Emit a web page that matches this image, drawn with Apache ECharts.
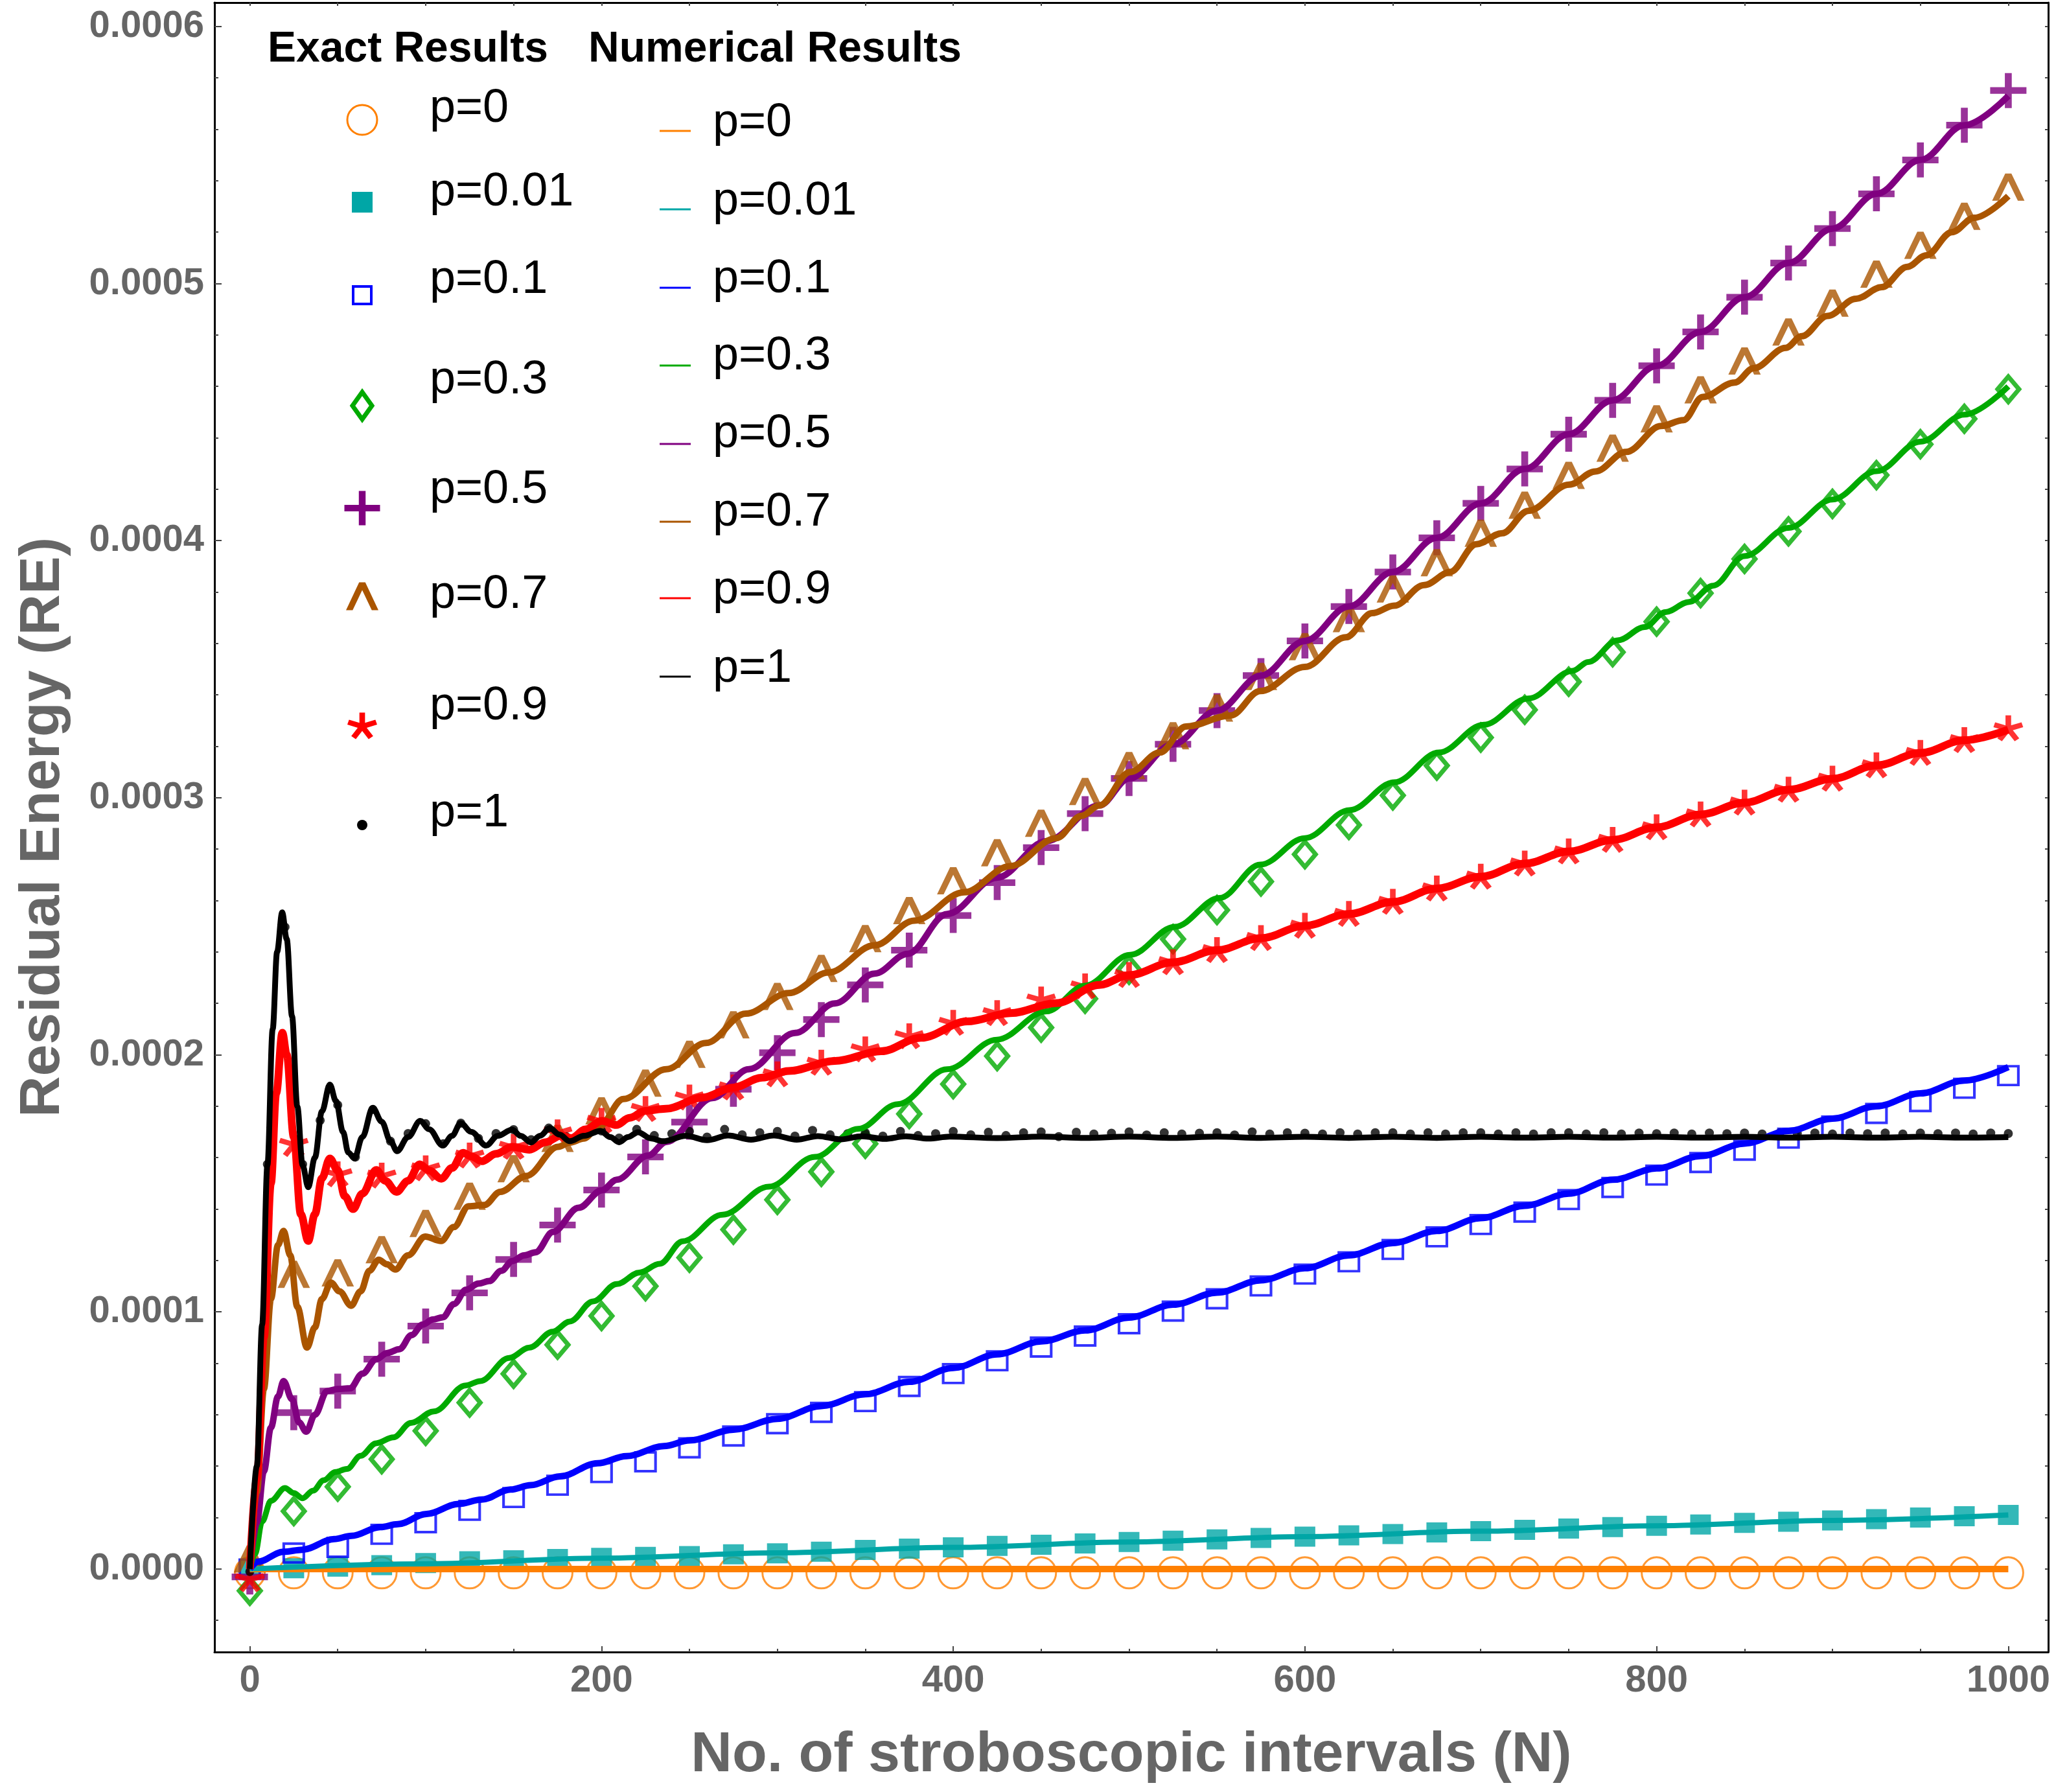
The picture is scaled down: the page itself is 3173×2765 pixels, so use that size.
<!DOCTYPE html>
<html>
<head>
<meta charset="utf-8">
<title>Residual Energy vs stroboscopic intervals</title>
<script src="https://cdn.jsdelivr.net/npm/echarts@6/dist/echarts.min.js"></script>
<style>
  html, body { margin: 0; padding: 0; background: #fff; }
  #chart { width: 3173px; height: 2765px; }
</style>
</head>
<body>
<div id="chart"></div>
<script>
// ---- data (RE values, in units of 1e-6) ----
const exactN = [0, 25, 50, 75, 100, 125, 150, 175, 200, 225, 250, 275, 300, 325, 350, 375, 400, 425, 450, 475,
  500, 525, 550, 575, 600, 625, 650, 675, 700, 725, 750, 775, 800, 825, 850, 875, 900, 925, 950, 975, 1000];
const dotN = [0, 10, 20, 30, 40, 50, 60, 70, 80, 90, 100, 110, 120, 130, 140, 150, 160, 170, 180, 190, 200,
  210, 220, 230, 240, 250, 260, 270, 280, 290, 300, 310, 320, 330, 340, 350, 360, 370, 380, 390, 400,
  410, 420, 430, 440, 450, 460, 470, 480, 490, 500, 510, 520, 530, 540, 550, 560, 570, 580, 590, 600,
  610, 620, 630, 640, 650, 660, 670, 680, 690, 700, 710, 720, 730, 740, 750, 760, 770, 780, 790, 800,
  810, 820, 830, 840, 850, 860, 870, 880, 890, 900, 910, 920, 930, 940, 950, 960, 970, 980, 990, 1000];

// exact results (markers)
const exactP0 = [-1.5, -1.5, -1.5, -1.5, -1.5, -1.5, -1.5, -1.5, -1.5, -1.5, -1.5, -1.5, -1.5, -1.5, -1.5, -1.5,
  -1.5, -1.5, -1.5, -1.5, -1.5, -1.5, -1.5, -1.5, -1.5, -1.5, -1.5, -1.5, -1.5, -1.5, -1.5, -1.5, -1.5, -1.5,
  -1.5, -1.5, -1.5, -1.5, -1.5, -1.5, -1.5];
const exactP001 = [0, 0.3, 0.9, 1.5, 2.3, 3.0, 3.4, 3.9, 4.3, 4.7, 5.0, 5.7, 6.1, 6.7, 7.4, 7.9, 8.4, 9.0, 9.4, 9.9,
  10.5, 11.0, 11.5, 12.1, 12.6, 13.1, 13.6, 14.2, 14.7, 15.2, 15.7, 16.3, 16.8, 17.3, 17.9, 18.4, 18.9, 19.4,
  20.0, 20.5, 21.0];
const exactP01 = [0, 6.2, 8.4, 13.5, 18.0, 22.8, 27.8, 32.6, 37.5, 41.7, 47.1, 51.7, 56.5, 60.9, 65.1, 71.0, 76.0,
  81.0, 86.3, 90.6, 95.4, 100.3, 105.1, 110.1, 114.7, 119.5, 124.3, 129.2, 134.0, 138.8, 143.7, 148.4, 153.2,
  158.1, 162.9, 167.6, 172.3, 177.2, 181.8, 187.0, 191.9];
const exactP03 = [-8.5, 22.5, 32.0, 42.7, 53.7, 64.7, 75.9, 87.2, 98.4, 110.0, 121.1, 132.0, 143.6, 154.5, 165.4,
  177.0, 188.6, 199.5, 210.6, 221.8, 233.1, 245.0, 256.3, 267.4, 278.0, 289.4, 300.9, 312.5, 323.4, 334.2, 345.1,
  356.6, 368.5, 379.6, 392.9, 403.6, 414.3, 425.5, 437.5, 447.4, 458.9];
const exactP05 = [-3.1, 60.8, 69.2, 81.6, 94.5, 107.4, 120.4, 133.8, 147.4, 160.3, 173.8, 186.6, 200.8, 213.7,
  227.2, 240.7, 254.2, 267.0, 280.6, 293.8, 307.5, 320.8, 333.9, 347.5, 361.0, 374.4, 387.8, 401.1, 414.5, 427.9,
  441.4, 454.6, 468.0, 481.2, 494.7, 508.0, 521.4, 534.9, 548.1, 561.6, 575.1];
const exactP07 = [3.9, 114.6, 115.2, 124.2, 134.4, 145.0, 155.7, 167.5, 178.2, 189.0, 200.2, 211.7, 222.7, 233.6,
  245.2, 256.1, 267.7, 278.6, 290.1, 302.4, 312.5, 324.1, 334.9, 347.2, 358.8, 369.7, 381.2, 391.4, 402.9, 413.8,
  425.4, 436.0, 447.4, 458.7, 469.9, 481.2, 492.4, 503.7, 514.9, 526.2, 537.5];
const exactP09 = [-4.0, 165.3, 153.5, 153.0, 155.8, 160.8, 164.2, 169.8, 174.3, 178.9, 183.4, 187.3, 192.4, 196.9,
  202.1, 207.2, 212.4, 216.2, 221.5, 226.6, 231.0, 236.0, 240.7, 245.4, 250.2, 254.8, 259.5, 264.7, 269.3, 274.4,
  279.1, 283.6, 288.5, 293.5, 298.1, 303.1, 307.4, 312.6, 317.4, 322.4, 327.0];
const exactP1 = [-1, 157.4, 249.7, 157.4, 174.5, 180.5, 160.2, 178.7, 166.4, 169.4, 173.2, 165.4, 173.4, 167.5,
  169.4, 170.9, 167.0, 171.5, 168.1, 169.3, 170.4, 167.6, 171.0, 168.6, 169.3, 170.2, 168.0, 171.0, 168.9, 169.7,
  170.2, 168.4, 170.6, 168.9, 169.3, 169.7, 168.4, 170.2, 168.6, 169.3, 170.2, 168.9, 169.9, 168.6, 169.7, 170.0,
  168.2, 169.9, 169.2, 169.5, 170.0, 168.8, 169.7, 169.2, 169.5, 169.7, 168.8, 170.0, 169.2, 169.7, 169.5, 169.2,
  169.7, 169.2, 169.7, 169.7, 169.2, 169.7, 169.2, 169.7, 169.7, 169.2, 169.7, 169.2, 169.7, 169.7, 169.2, 169.7,
  169.2, 169.6, 169.3, 169.6, 169.2, 169.6, 169.3, 169.6, 169.2, 169.6, 169.3, 169.6, 169.2, 169.6, 169.3, 169.6,
  169.2, 169.6, 169.3, 169.6, 169.2, 169.6, 169.4];

// numerical results (lines), pairs [N, RE]
const numP0 = [[0, 0], [1000, 0]];
const numP001 = [[0, 0], [100, 2.0], [200, 4.2], [300, 6.3], [400, 8.4], [500, 10.5], [600, 12.6], [700, 14.7],
  [800, 16.8], [900, 18.9], [1000, 21.0]];
const numP01 = [[0, 0], [4.5, 2.8], [19.2, 6.7], [29.9, 7.5], [47.9, 11.6], [57.8, 12.9], [74.2, 16.3], [84.1, 17.4],
  [100.5, 21.4], [118.7, 25.3], [131.8, 27.0], [148.3, 30.9], [159.8, 32.6], [176.3, 36.0], [197.7, 41.1],
  [214.2, 43.9], [235.5, 47.8], [250, 50.0], [275, 54.2], [300, 58.4], [325, 63.4], [350, 68.0], [375, 72.8],
  [400, 78.2], [425, 83.5], [450, 88.5], [475, 92.8], [500, 97.8], [525, 102.8], [550, 107.5], [575, 112.3],
  [600, 117.0], [625, 122.0], [650, 126.8], [675, 131.5], [700, 136.5], [725, 141.3], [750, 146.0], [775, 151.4],
  [800, 155.8], [825, 160.6], [850, 165.5], [875, 170.4], [900, 175.2], [925, 180.0], [950, 185.0], [975, 190.0],
  [1000, 195.2]];
const numP03 = [[0, 0], [3, 6], [7, 18.5], [12, 26.5], [20, 31.5], [25, 29.5], [30, 27.5], [36, 30.5], [42, 34.5],
  [48.6, 37.7], [55.2, 38.9], [63, 44], [71.8, 48.9], [81.7, 51.2], [91.6, 56.8], [104.7, 61.3], [122.8, 71.4],
  [131, 73.1], [147.5, 82.1], [159, 86.1], [172.2, 92.3], [182, 96.3], [195.2, 104.1], [208.6, 110.8],
  [221.6, 115.3], [233.1, 118.7], [246.2, 127.5], [268.8, 137.8], [295.1, 148.7], [321.4, 160.3], [345.9, 171.2],
  [368.4, 180.8], [396.6, 194.4], [424.8, 205.9], [453, 216.9], [475, 226.9], [500.6, 238.9], [526, 249.8],
  [551.4, 261], [574.7, 274], [600, 284.3], [625.4, 295.2], [650.8, 306], [676.2, 317.6], [701.6, 328.4],
  [727, 338.6], [752.4, 349.4], [761, 352.8], [777.9, 361.2], [793.2, 366.4], [805, 372.2], [818.6, 376.2],
  [832.1, 382.5], [850, 394], [875, 405], [900, 416], [925, 427], [950, 438.5], [975, 449], [1000, 460]];
const numP05 = [[0, 0], [4, 18], [8, 38], [12, 55], [16, 67], [19.2, 73.1], [24, 66], [28, 57], [32.1, 53.4],
  [37, 60], [43.9, 69.2], [50, 70], [57.1, 70.3], [64, 76], [71.9, 81.6], [78, 84], [85.1, 85.5], [92, 91],
  [98.3, 95.1], [104, 97], [109.8, 97.9], [116, 103], [123, 108.6], [130, 111], [136.2, 112], [143, 116],
  [149.3, 119.8], [156, 122], [162.5, 123.2], [172.4, 131.1], [187, 140.5], [200.2, 147.3], [208.6, 151.4],
  [226.5, 160.8], [236.8, 166.1], [263.1, 183.2], [283.8, 194.4], [310.1, 208.5], [332.7, 220], [355.3, 231.6],
  [374.1, 239.3], [396.6, 254.8], [424.8, 268.9], [453, 283.1], [483.1, 297], [500, 307.5], [525, 320.8],
  [550, 333.9], [575, 347.5], [600, 361], [625, 374.4], [650, 387.8], [675, 401.1], [700, 414.5], [725, 427.9],
  [750, 441.4], [775, 454.6], [800, 468], [825, 481.2], [850, 494.7], [875, 508], [900, 521.4], [925, 534.9],
  [950, 548.1], [975, 561.6], [1000, 573]];
const numP07 = [[0, 0], [4, 30], [8, 70], [12, 105], [16, 126], [19.2, 131.5], [23, 122], [27, 102], [32.5, 86.1],
  [37, 94], [41, 105], [46.1, 111.4], [51, 108], [57.6, 102.4], [63, 108], [68, 116], [73.3, 120.3], [78, 118.5],
  [82.8, 116.5], [90, 122], [99.7, 129.3], [108.8, 127.6], [116, 133], [124.4, 141.1], [133.4, 141.6],
  [142.4, 146.7], [157.2, 152.9], [175.3, 164.2], [182, 165.9], [189.8, 167.4], [198.4, 172], [212.4, 182.8],
  [236.8, 194.4], [259.4, 204.6], [282, 216], [306.4, 224], [329, 232], [355.3, 242.6], [377.9, 252.2],
  [406.1, 263.2], [432.4, 273.4], [458.7, 284.3], [473, 293], [483.1, 297], [500.6, 310], [517.5, 317.6],
  [532.3, 327.7], [557.7, 332], [574.6, 341.5], [600, 350.9], [623.3, 362.4], [638.2, 371.8], [650.8, 374.7],
  [667.8, 382.7], [682.6, 387.8], [697.4, 398.6], [712.2, 402.9], [727, 411.6], [750.3, 421.8], [765.1, 426.9],
  [782.6, 434.5], [802.6, 444.6], [815.3, 446.9], [826.2, 455.9], [844.4, 461.5], [855.2, 467.1], [873.4, 475],
  [882.5, 479.5], [897.1, 487.4], [913.4, 494.1], [928, 498.6], [942.5, 506.5], [953.4, 511], [967.9, 520],
  [980.6, 525.6], [1000, 534]];
const numP09 = [[0, 0], [4, 35], [8, 90], [12, 150], [15, 185], [18.5, 208.6], [21, 200], [25, 168], [29, 138],
  [33.2, 127.6], [37, 138], [41, 152], [45.5, 159.7], [50, 155], [54, 145], [58.7, 140], [64, 146], [71.9, 155.2],
  [77, 151], [83.4, 146.7], [90, 151], [96.6, 157.4], [102, 155], [108.9, 151.8], [115, 156], [121.3, 161.9],
  [126, 160.5], [131.9, 158.6], [140, 161.5], [149.2, 164.2], [159, 163.1], [168, 166], [177.2, 168.6],
  [182.8, 167.6], [191, 171], [200.2, 174.3], [208.4, 172.7], [216, 175.5], [224.8, 178.2], [236.5, 179],
  [257.5, 183.4], [275, 187.3], [291.3, 191.1], [306.4, 193.7], [332.7, 197.6], [359, 201.4], [381.6, 206.6],
  [407.9, 213], [432.4, 216.2], [458.7, 220.1], [483.1, 227.2], [500, 231], [525, 236], [550, 240.7],
  [575, 245.4], [600, 250.2], [625, 254.8], [650, 259.5], [675, 264.7], [700, 269.3], [725, 274.4], [750, 279.1],
  [775, 283.6], [800, 288.5], [825, 293.5], [850, 298.1], [875, 303.1], [900, 307.4], [925, 312.6], [950, 317.4],
  [975, 322.4], [1000, 326.5]];
const numP1 = [[0, 0], [4, 40], [7, 95], [10, 157], [13, 210], [15.5, 240], [18.4, 255.4], [21, 245], [24, 215],
  [27, 180], [30, 157], [33.2, 148.5], [37, 160], [41, 178], [45.5, 188.4], [49, 182], [53, 170], [56, 162],
  [59.5, 159.7], [64, 168], [69.9, 179.4], [75, 174], [80, 166.4], [83.7, 162.5], [90, 168], [96.9, 174.3],
  [102, 171], [109.7, 164.7], [115, 168.5], [119.9, 173.4], [126, 170], [134.4, 164.7], [141, 168.5],
  [149.2, 170.9], [154, 168.5], [159.9, 165.9], [165, 168.5], [170.6, 171.5], [176, 169], [182, 166.4],
  [190, 168.5], [199.4, 170.4], [205, 168], [210, 166], [215, 168], [220.8, 169.9], [228, 167.5], [235, 166.4],
  [248, 168.5], [260, 166.8], [272, 168.6], [285, 167.0], [298, 168.6], [311, 167.0], [323, 168.4], [336, 167.1],
  [348, 168.3], [361, 167.3], [373, 168.3], [386, 167.4], [398, 168.2], [425, 167.6], [450, 168.2], [475, 167.7],
  [500, 168.2], [525, 167.7], [550, 168.2], [575, 167.7], [600, 168.1], [625, 167.7], [650, 168.1], [675, 167.7],
  [700, 168.1], [725, 167.8], [750, 168.1], [775, 167.8], [800, 168.1], [825, 167.8], [850, 168.1], [875, 167.8],
  [900, 168.1], [925, 167.8], [950, 168.1], [975, 167.8], [1000, 168]];

const xTickValues = [0, 200, 400, 600, 800, 1000];
const yTickValues = [0, 0.0001, 0.0002, 0.0003, 0.0004, 0.0005, 0.0006];
const pLabels = ['p=0', 'p=0.01', 'p=0.1', 'p=0.3', 'p=0.5', 'p=0.7', 'p=0.9', 'p=1'];

// ---- styling ----
const FONT = '"Liberation Sans", Arial, sans-serif';
const COLORS = ['#ff8000', '#00a6a6', '#0000ff', '#00aa00', '#800080', '#aa5500', '#ff0000', '#000000'];
const X_MIN = -20.1, X_MAX = 1022.7;
const Y_MIN = -32.3e-6, Y_MAX = 609.3e-6;
const SCALE = 1e-6;

// marker outlines as polygons in a 10x10 box
const PLUS_POLYS = [[[4.05, 0], [5.95, 0], [5.95, 4.05], [10, 4.05], [10, 5.95], [5.95, 5.95], [5.95, 10],
  [4.05, 10], [4.05, 5.95], [0, 5.95], [0, 4.05], [4.05, 4.05]]];
const CARET_POLYS = [[[4.05, 0], [5.95, 0], [10, 10], [7.95, 10], [5, 2.8], [2.05, 10], [0, 10]]];
// five armed asterisk, each arm a rectangle rotated round the centre
function asteriskPolys() {
  const polys = [];
  for (let k = 0; k < 5; k++) {
    const a = k * 72 * Math.PI / 180;
    const ux = Math.sin(a), uy = -Math.cos(a);
    const nx = -uy, ny = ux;
    const w = 0.95;
    polys.push([[-0.6, -w], [5, -w], [5, w], [-0.6, w]].map(function (p) {
      return [5 + p[0] * ux + p[1] * nx, 5 + p[0] * uy + p[1] * ny];
    }));
  }
  return polys;
}
const STAR_POLYS = asteriskPolys();

function toSymbol(polys) {
  return 'path://' + polys.map(function (pts) {
    return 'M' + pts.map(function (p) { return p[0].toFixed(3) + ',' + p[1].toFixed(3); }).join('L') + 'Z';
  }).join('');
}

const clear = 'rgba(0,0,0,0)';
const markers = [
  { symbol: 'circle', size: [46, 48], style: { color: clear, borderColor: COLORS[0], borderWidth: 3 } },
  { symbol: 'rect', size: [32, 31], style: { color: COLORS[1] } },
  { symbol: 'rect', size: [31, 29], style: { color: clear, borderColor: COLORS[2], borderWidth: 4 } },
  { symbol: 'diamond', size: [33, 39], style: { color: clear, borderColor: COLORS[3], borderWidth: 7 } },
  { symbol: toSymbol(PLUS_POLYS), size: [56, 54], style: { color: COLORS[4] } },
  { symbol: toSymbol(CARET_POLYS), size: [50, 42], style: { color: COLORS[5] } },
  { symbol: toSymbol(STAR_POLYS), size: [46, 40], style: { color: COLORS[6] } },
  { symbol: 'circle', size: 14, style: { color: COLORS[7] } }
];
const lineWidths = [10, 8, 10, 9, 10, 10, 12, 9];

const exactSets = [
  [exactN, exactP0], [exactN, exactP001], [exactN, exactP01], [exactN, exactP03],
  [exactN, exactP05], [exactN, exactP07], [exactN, exactP09], [dotN, exactP1]
];
const numSets = [numP0, numP001, numP01, numP03, numP05, numP07, numP09, numP1];

const series = [];
exactSets.forEach(function (set, i) {
  series.push({
    name: 'Exact ' + pLabels[i],
    type: 'scatter',
    data: set[0].map(function (n, j) { return [n, set[1][j] * SCALE]; }),
    symbol: markers[i].symbol,
    symbolSize: markers[i].size,
    itemStyle: markers[i].style,
    silent: true,
    z: 2
  });
});
numSets.forEach(function (set, i) {
  series.push({
    name: 'Numerical ' + pLabels[i],
    type: 'line',
    data: set.map(function (p) { return [p[0], p[1] * SCALE]; }),
    showSymbol: false,
    symbol: 'none',
    smooth: 0.35,
    smoothMonotone: 'x',
    lineStyle: { color: COLORS[i], width: lineWidths[i] },
    silent: true,
    z: 3
  });
});

// ---- legend drawn as graphic elements ----
const exLabelY = [168, 297, 432, 587, 756, 918, 1090, 1255];
const exMarkY = [185, 312, 455, 626, 784, 920, 1120, 1273];
const numLabelY = [190, 311, 431, 550, 670, 791, 911, 1032];
const numLineY = [202, 323, 444, 564, 685, 805, 923, 1044];

function textEl(str, x, y, font) {
  return {
    type: 'text', silent: true,
    style: { text: str, x: x, y: y, font: font, fill: '#000',
      align: 'left', verticalAlign: 'middle', textAlign: 'left', textVerticalAlign: 'middle' }
  };
}
// scale a polygon set into a box centred at cx, cy
function polyEls(polys, cx, cy, w, h, color) {
  let x0 = Infinity, y0 = Infinity, x1 = -Infinity, y1 = -Infinity;
  polys.forEach(function (pts) {
    pts.forEach(function (p) {
      x0 = Math.min(x0, p[0]); x1 = Math.max(x1, p[0]);
      y0 = Math.min(y0, p[1]); y1 = Math.max(y1, p[1]);
    });
  });
  return polys.map(function (pts) {
    return {
      type: 'polygon', silent: true,
      shape: { points: pts.map(function (p) {
        return [cx - w / 2 + (p[0] - x0) / (x1 - x0) * w, cy - h / 2 + (p[1] - y0) / (y1 - y0) * h];
      }) },
      style: { fill: color }
    };
  });
}
function legendMarker(i, cx, cy) {
  const c = COLORS[i];
  switch (i) {
    case 0: return [{ type: 'circle', silent: true, shape: { cx: cx, cy: cy, r: 23 }, style: { fill: 'none', stroke: c, lineWidth: 3 } }];
    case 1: return [{ type: 'rect', silent: true, shape: { x: cx - 16, y: cy - 16, width: 32, height: 32 }, style: { fill: c } }];
    case 2: return [{ type: 'rect', silent: true, shape: { x: cx - 14, y: cy - 13, width: 28, height: 27 }, style: { fill: 'none', stroke: c, lineWidth: 4 } }];
    case 3: return [{ type: 'polygon', silent: true, shape: { points: [[cx, cy - 21], [cx + 15, cy], [cx, cy + 21], [cx - 15, cy]] }, style: { fill: 'none', stroke: c, lineWidth: 7 } }];
    case 4: return polyEls(PLUS_POLYS, cx, cy, 55, 53, c);
    case 5: return polyEls(CARET_POLYS, cx, cy, 50, 43, c);
    case 6: return polyEls(STAR_POLYS, cx, cy, 46, 41, c);
    default: return [{ type: 'circle', silent: true, shape: { cx: cx, cy: cy, r: 8 }, style: { fill: c } }];
  }
}

const graphics = [
  textEl('Exact Results', 413, 77, 'bold 66px ' + FONT),
  textEl('Numerical Results', 908, 77, 'bold 66px ' + FONT)
];
pLabels.forEach(function (lab, i) {
  legendMarker(i, 559, exMarkY[i]).forEach(function (el) { graphics.push(el); });
  graphics.push(textEl(lab, 663, exLabelY[i], '72px ' + FONT));
  graphics.push({ type: 'line', silent: true,
    shape: { x1: 1018, y1: numLineY[i], x2: 1066, y2: numLineY[i] },
    style: { stroke: COLORS[i], lineWidth: 3 } });
  graphics.push(textEl(lab, 1100, numLabelY[i], '72px ' + FONT));
});

// ---- axes ----
const xMinor = [];
for (let v = 0; v <= 1000; v += 50) xMinor.push(v);
const yMinor = [];
for (let k = -1; k <= 30; k++) yMinor.push(k * 2e-5);

const frameLine = { show: true, onZero: false, lineStyle: { color: '#000', width: 3 } };
const tickLine = { color: '#444', width: 2 };
const labelFont = { fontSize: 58, fontWeight: 'bold', color: '#666', fontFamily: FONT };

function bareAxis(extra) {
  return Object.assign({
    type: 'value',
    axisLine: { show: false, onZero: false },
    axisLabel: { show: false },
    splitLine: { show: false }
  }, extra);
}

const option = {
  animation: false,
  backgroundColor: '#fff',
  grid: { left: 331, right: 12, top: 4, bottom: 216 },
  graphic: graphics,
  xAxis: [
    {
      type: 'value', min: X_MIN, max: X_MAX, position: 'bottom',
      name: 'No. of stroboscopic intervals (N)',
      nameLocation: 'middle', nameGap: 116,
      nameTextStyle: { fontSize: 88, fontWeight: 'bold', color: '#666', fontFamily: FONT },
      axisLine: frameLine,
      axisTick: { show: true, inside: true, length: 9, customValues: xTickValues, lineStyle: tickLine },
      axisLabel: Object.assign({ customValues: xTickValues, margin: 16,
        formatter: function (v) { return String(v); } }, labelFont),
      splitLine: { show: false }
    },
    bareAxis({ min: X_MIN, max: X_MAX, position: 'bottom',
      axisTick: { show: true, inside: true, length: 5, customValues: xMinor, lineStyle: tickLine } }),
    bareAxis({ min: X_MIN, max: X_MAX, position: 'top', axisLine: frameLine,
      axisTick: { show: true, inside: true, length: 5, customValues: xMinor, lineStyle: tickLine } })
  ],
  yAxis: [
    {
      type: 'value', min: Y_MIN, max: Y_MAX, position: 'left',
      name: 'Residual Energy (RE)',
      nameLocation: 'middle', nameGap: 220, nameRotate: 90,
      nameTextStyle: { fontSize: 88, fontWeight: 'bold', color: '#666', fontFamily: FONT },
      axisLine: frameLine,
      axisTick: { show: true, inside: true, length: 11, customValues: yTickValues, lineStyle: tickLine },
      axisLabel: Object.assign({ customValues: yTickValues, margin: 16,
        formatter: function (v) { return v.toFixed(4); } }, labelFont),
      splitLine: { show: false }
    },
    bareAxis({ min: Y_MIN, max: Y_MAX, position: 'left',
      axisTick: { show: true, inside: true, length: 6, customValues: yMinor, lineStyle: tickLine } }),
    bareAxis({ min: Y_MIN, max: Y_MAX, position: 'right', axisLine: frameLine,
      axisTick: { show: true, inside: true, length: 5, customValues: yMinor, lineStyle: tickLine } })
  ],
  series: series
};

const chart = echarts.init(document.getElementById('chart'));
chart.setOption(option);
</script>
</body>
</html>
